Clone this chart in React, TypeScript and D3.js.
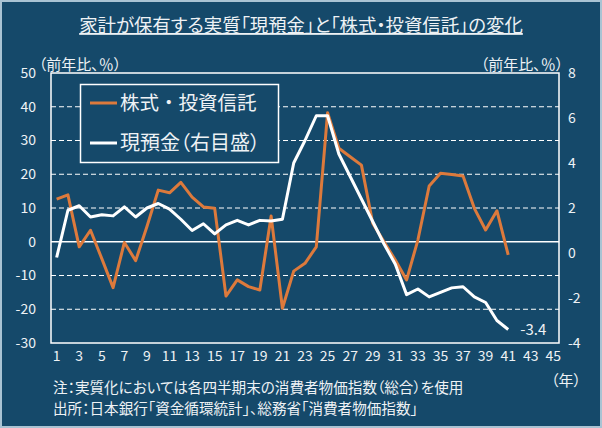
import { useEffect } from 'react';
import * as d3 from 'd3';

// 四半期インデックス (1..41 が実データ、軸は 45 まで)
const quarters = d3.range(1, 46);
const tickQuarters = quarters.filter(q => q % 2 === 1);

// 株式・投資信託 (左目盛、前年比%)
const stocks = [
  12.6, 13.9, -1.5, 3.4, -5.0, -13.6, -0.2, -5.6, 4.5, 15.3,
  14.5, 17.6, 13.2, 10.3, 9.9, -16.1, -11.3, -13.3, -14.3, 7.6,
  -19.7, -8.7, -6.4, -1.5, 38.2, 27.7, 25.2, 22.7, 5.5, 0.0,
  -5.4, -11.3, 0.5, 16.5, 20.3, 19.9, 19.5, 9.9, 3.5, 9.2,
  -3.9,
];

// 現預金 (右目盛、前年比%)
const cash = [
  -0.2, 1.9, 2.1, 1.6, 1.7, 1.65, 2.05, 1.6, 2.0, 2.2,
  1.95, 1.5, 1.0, 1.3, 0.85, 1.25, 1.45, 1.25, 1.45, 1.42,
  1.5, 4.0, 5.0, 6.1, 6.1, 4.4, 3.4, 2.4, 1.4, 0.4,
  -0.5, -1.85, -1.6, -1.95, -1.75, -1.55, -1.5, -1.95, -2.2, -3.0,
  -3.4,
];

const leftTicks = [50, 40, 30, 20, 10, 0, -10, -20, -30];
const rightTicks = [8, 6, 4, 2, 0, -2, -4];

const W = 602;
const H = 428;
const plot = { left: 51, right: 559, top: 73, bottom: 343 };

const BG = '#15496a';
const ORANGE = '#dd7a3c';
const TEXT = '#eef2f5';
const FONT = '"Noto Sans CJK JP", "Noto Sans", sans-serif';

export default function App() {
  useEffect(() => {
    document.body.style.margin = '0';
  }, []);

  const x = d3.scalePoint<number>()
    .domain(quarters)
    .range([plot.left, plot.right])
    .padding(0.5);

  const yL = d3.scaleLinear().domain([-30, 50]).range([plot.bottom, plot.top]);
  const yR = d3.scaleLinear().domain([-4, 8]).range([plot.bottom, plot.top]);

  const stockLine = d3.line<number>()
    .x((_, i) => x(i + 1) as number)
    .y(d => yL(d));
  const cashLine = d3.line<number>()
    .x((_, i) => x(i + 1) as number)
    .y(d => yR(d));

  const lastIdx = cash.length - 1;
  const txt = { fontFamily: FONT, fontFeatureSettings: '"palt"' } as const;
  const plain = { fontFamily: FONT } as const;

  return (
    <svg width={W} height={H} style={{ display: 'block', background: BG }}>
      <rect x={1} y={1} width={W - 2} height={H - 2} fill={BG} stroke="#a9c3d3" strokeWidth={2} />

      {/* タイトル */}
      <text x={W / 2} y={32} textAnchor="middle" fill={TEXT} fontSize={18.4}
        style={{ ...txt, textDecoration: 'underline' }}>
        家計が保有する実質「現預金」と「株式・投資信託」の変化
      </text>

      <text x={80} y={70} textAnchor="middle" fill={TEXT} fontSize={15} style={txt}>（前年比、％）</text>
      <text x={522} y={70} textAnchor="middle" fill={TEXT} fontSize={15} style={txt}>（前年比、％）</text>

      {/* グリッド */}
      {leftTicks.filter(t => t !== 50 && t !== -30).map(t => (
        <line key={t} x1={plot.left} x2={plot.right} y1={yL(t)} y2={yL(t)}
          stroke="#ffffff" strokeWidth={t === 0 ? 1.5 : 1}
          strokeDasharray={t === 0 ? undefined : '5,3'} />
      ))}
      <rect x={plot.left} y={plot.top} width={plot.right - plot.left} height={plot.bottom - plot.top}
        fill="none" stroke="#ffffff" strokeWidth={1.5} />

      {/* 軸ラベル */}
      {leftTicks.map(t => (
        <text key={t} x={36} y={yL(t)} dy="0.35em" textAnchor="end" fill={TEXT} fontSize={14} style={txt}>{t}</text>
      ))}
      {rightTicks.map(t => (
        <text key={t} x={568} y={yR(t)} dy="0.35em" textAnchor="start" fill={TEXT} fontSize={14} style={txt}>{t}</text>
      ))}
      {tickQuarters.map(q => (
        <text key={q} x={x(q)} y={356} dy="0.35em" textAnchor="middle" fill={TEXT} fontSize={14} style={txt}>{q}</text>
      ))}
      <text x={566} y={381} dy="0.35em" textAnchor="middle" fill={TEXT} fontSize={15} style={txt}>（年）</text>

      {/* 系列 */}
      <path d={stockLine(stocks) ?? ''} fill="none" stroke={ORANGE} strokeWidth={3} strokeLinejoin="round" />
      <path d={cashLine(cash) ?? ''} fill="none" stroke="#ffffff" strokeWidth={3} strokeLinejoin="round" />
      <text x={(x(lastIdx + 1) as number) + 12} y={yR(cash[lastIdx])} dy="0.35em" fill={TEXT} fontSize={15} style={txt}>
        {cash[lastIdx]}
      </text>

      {/* 凡例 */}
      <rect x={80.5} y={84.5} width={198} height={78} fill={BG} stroke="#ffffff" strokeWidth={1.5} />
      <line x1={90} x2={117} y1={103} y2={103} stroke={ORANGE} strokeWidth={3} />
      <text x={120} y={103} dy="0.35em" fill={TEXT} fontSize={19.5} style={plain}>株式・投資信託</text>
      <line x1={90} x2={117} y1={143} y2={143} stroke="#ffffff" strokeWidth={3} />
      <text x={120} y={143} dy="0.35em" fill={TEXT} fontSize={20} style={txt}>現預金（右目盛）</text>

      {/* 注記 */}
      <text x={53} y={388} dy="0.35em" fill={TEXT} fontSize={14.6} style={txt}>注：実質化においては各四半期末の消費者物価指数（総合）を使用</text>
      <text x={53} y={409} dy="0.35em" fill={TEXT} fontSize={14.6} style={txt}>出所：日本銀行「資金循環統計」、総務省「消費者物価指数」</text>
    </svg>
  );
}
